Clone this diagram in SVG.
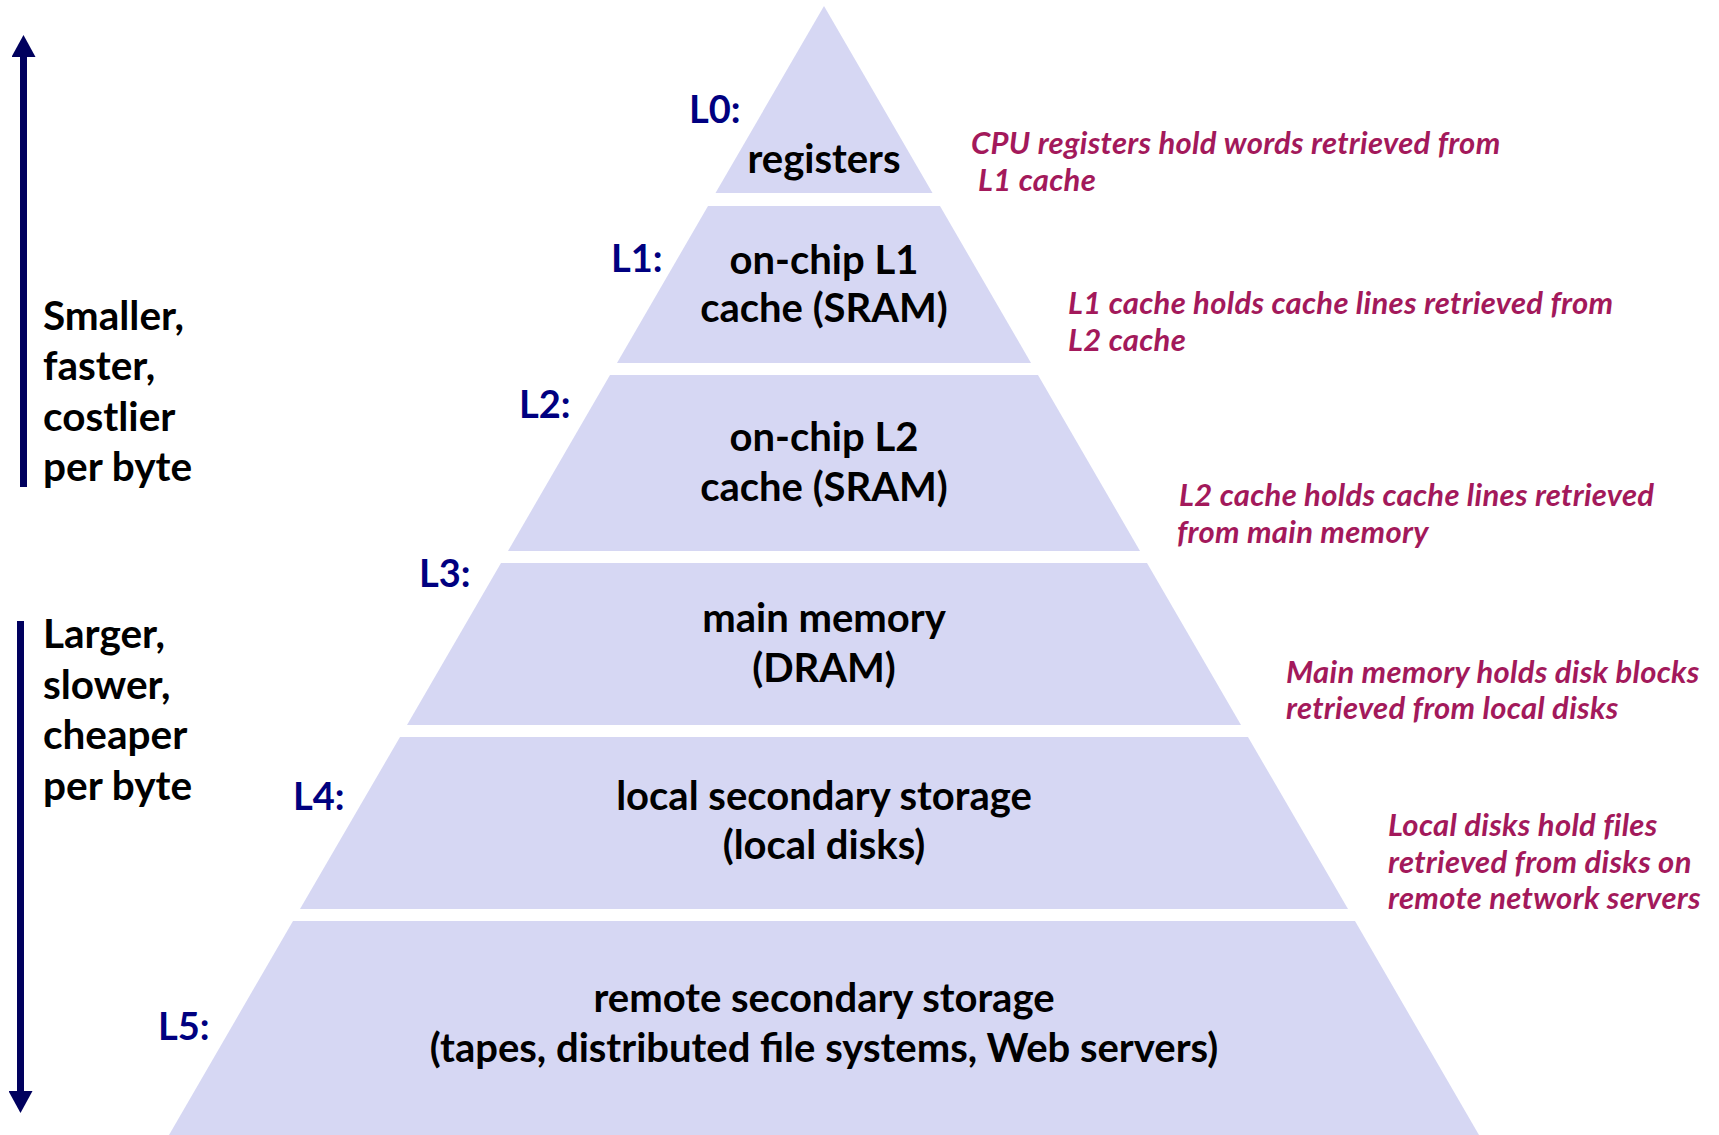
<svg xmlns="http://www.w3.org/2000/svg" width="1719" height="1135" viewBox="0 0 1719 1135">
<defs>
<style>
.band{fill:#D6D7F3;stroke:none}
.ct{font-family:Lato,"Liberation Sans",sans-serif;font-weight:700;font-size:40px;fill:#000;text-anchor:middle}
.lv{font-family:Lato,"Liberation Sans",sans-serif;font-weight:700;font-size:38px;fill:#000080}
.sd{font-family:Lato,"Liberation Sans",sans-serif;font-weight:700;font-size:40.5px;fill:#000}
.nt{font-family:Lato,"Liberation Sans",sans-serif;font-weight:700;font-style:italic;font-size:31px;letter-spacing:0.3px;fill:#A3195B}
.ar{stroke:#00005E;stroke-width:7;fill:none}
</style>
<marker id="head" viewBox="0 0 22 24" markerWidth="22" markerHeight="24" refX="1" refY="12" orient="auto" markerUnits="userSpaceOnUse">
<path d="M0,0 L22,12 L0,24 z" fill="#00005E"/>
</marker>
</defs>
<rect width="1719" height="1135" fill="#fff"/>

<g id="L0">
<polygon class="band" points="824,6 932.5,193 715.5,193"/>
<text class="ct" x="824" y="173">registers</text>
<text class="lv" x="689" y="123">L0:</text>
<text class="nt" x="971" y="154">CPU registers hold words retrieved from</text>
<text class="nt" x="978" y="191">L1 cache</text>
</g>

<g id="L1">
<polygon class="band" points="708,206 940,206 1031,363 617,363"/>
<text class="ct" x="824" y="274">on-chip L1</text>
<text class="ct" x="824" y="322">cache (SRAM)</text>
<text class="lv" x="611" y="272">L1:</text>
<text class="nt" x="1068" y="314">L1 cache holds cache lines retrieved from</text>
<text class="nt" x="1068" y="351">L2 cache</text>
</g>

<g id="L2">
<polygon class="band" points="610,375 1038,375 1140,551 508,551"/>
<text class="ct" x="824" y="451">on-chip L2</text>
<text class="ct" x="824" y="501">cache (SRAM)</text>
<text class="lv" x="519" y="418">L2:</text>
<text class="nt" x="1179" y="506">L2 cache holds cache lines retrieved</text>
<text class="nt" x="1177" y="543">from main memory</text>
</g>

<g id="L3">
<polygon class="band" points="501,563 1147,563 1241,725 407,725"/>
<text class="ct" x="824" y="632">main memory</text>
<text class="ct" x="824" y="682">(DRAM)</text>
<text class="lv" x="419" y="587">L3:</text>
<text class="nt" x="1286" y="683">Main memory holds disk blocks</text>
<text class="nt" x="1286" y="719">retrieved from local disks</text>
</g>

<g id="L4">
<polygon class="band" points="400,737 1248,737 1348,909 300,909"/>
<text class="ct" x="824" y="810">local secondary storage</text>
<text class="ct" x="824" y="859">(local disks)</text>
<text class="lv" x="293" y="810">L4:</text>
<text class="nt" x="1388" y="836">Local disks hold files</text>
<text class="nt" x="1388" y="873">retrieved from disks on</text>
<text class="nt" x="1388" y="909">remote network servers</text>
</g>

<g id="L5">
<polygon class="band" points="293,921 1355,921 1479,1135 169,1135"/>
<text class="ct" x="824" y="1012">remote secondary storage</text>
<text class="ct" x="824" y="1062">(tapes, distributed file systems, Web servers)</text>
<text class="lv" x="158" y="1040">L5:</text>
</g>

<g id="side-up">
<text class="sd" x="43" y="330">Smaller,</text>
<text class="sd" x="43" y="380">faster,</text>
<text class="sd" x="43" y="431">costlier</text>
<text class="sd" x="43" y="481">per byte</text>
</g>

<g id="side-down">
<text class="sd" x="43" y="648">Larger,</text>
<text class="sd" x="43" y="699">slower,</text>
<text class="sd" x="43" y="749">cheaper</text>
<text class="sd" x="43" y="800">per byte</text>
</g>

<g id="connectors">
<line class="ar" x1="23.5" y1="487" x2="23.5" y2="56" marker-end="url(#head)"/>
<line class="ar" x1="20.5" y1="621" x2="20.5" y2="1092" marker-end="url(#head)"/>
</g>
</svg>
